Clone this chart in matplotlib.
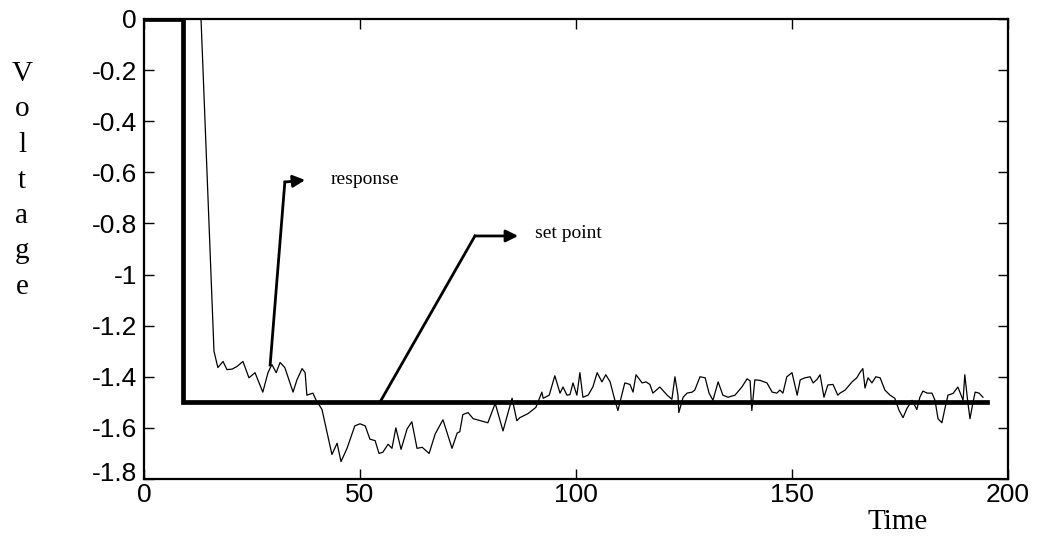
import matplotlib
matplotlib.use("Agg")
import matplotlib.pyplot as plt
import matplotlib.transforms as mtransforms

# ---- data ----
setpoint_t = [0, 9.0, 9.0, 195.1]
setpoint_v = [0, 0, -1.5, -1.5]

resp_t = [0, 13.2, 16.2, 17.1, 18.3, 19.2, 20.4, 21.5, 22.9, 24.3, 25.7, 27.5,
          28.7, 29.6, 30.6, 31.5, 32.6, 34.5, 35.4, 36.6, 37.3, 37.7, 39.1, 39.8,
          41.2, 43.5, 44.7, 45.6, 47.0, 48.8, 50.0, 51.2, 52.3, 53.5, 54.4, 55.3,
          56.5, 57.4, 58.3, 59.5, 60.9, 62.0, 63.2, 64.4, 66.0, 67.4, 69.2, 71.3,
          72.5, 73.1, 73.8, 75.0, 76.2, 79.6, 81.3, 83.1, 85.2, 86.3, 87.0, 88.9,
          90.7, 92.1, 92.4, 93.8, 95.1, 96.3, 97.0, 97.9, 98.6, 99.3, 100.2, 100.9,
          101.6, 102.8, 103.9, 104.9, 106.0, 106.9, 107.9, 109.0, 109.7, 110.6,
          111.3, 112.5, 113.2, 113.9, 115.3, 116.2, 117.1, 117.8, 119.4, 121.1,
          122.2, 122.9, 123.6, 123.8, 124.8, 125.7, 126.9, 127.5, 128.7, 129.9,
          130.8, 131.7, 132.9, 134.0, 135.2, 136.8, 138.4, 139.6, 140.3, 140.7,
          141.4, 142.6, 144.2, 145.4, 146.5, 147.2, 147.9, 148.8, 150.0, 151.2,
          151.9, 153.0, 154.2, 154.9, 155.8, 156.5, 157.4, 158.3, 159.5, 160.6,
          161.1, 162.3, 163.9, 165.0, 165.7, 166.4, 166.9, 167.6, 168.5, 169.4,
          170.4, 171.5, 172.7, 173.8, 174.8, 175.7, 176.6, 177.8, 178.9, 179.6,
          180.3, 181.3, 182.4, 183.1, 183.8, 184.7, 185.4, 186.1, 187.3, 188.4,
          189.6, 190.0, 190.7, 191.2, 191.9, 192.4, 193.3, 194.2]
resp_v = [0, 0, -1.30, -1.364, -1.34, -1.372, -1.37, -1.36, -1.34, -1.404, -1.384, -1.46,
          -1.384, -1.352, -1.384, -1.344, -1.364, -1.46, -1.412, -1.368, -1.384, -1.472, -1.464, -1.49,
          -1.528, -1.704, -1.66, -1.732, -1.68, -1.592, -1.584, -1.592, -1.644, -1.65, -1.70, -1.695,
          -1.664, -1.68, -1.60, -1.684, -1.604, -1.576, -1.68, -1.676, -1.70, -1.624, -1.568, -1.68,
          -1.62, -1.615, -1.548, -1.54, -1.564, -1.58, -1.504, -1.612, -1.484, -1.572, -1.56, -1.544,
          -1.52, -1.46, -1.484, -1.472, -1.396, -1.464, -1.44, -1.472, -1.47, -1.424, -1.472, -1.384,
          -1.48, -1.472, -1.44, -1.384, -1.42, -1.392, -1.42, -1.492, -1.532, -1.472,
          -1.424, -1.43, -1.46, -1.392, -1.424, -1.42, -1.43, -1.464, -1.44, -1.472,
          -1.488, -1.40, -1.472, -1.54, -1.48, -1.464, -1.46, -1.452, -1.40, -1.404,
          -1.464, -1.492, -1.42, -1.472, -1.48, -1.472, -1.44, -1.408, -1.416, -1.532,
          -1.412, -1.414, -1.424, -1.46, -1.464, -1.452, -1.464, -1.40, -1.384, -1.472,
          -1.412, -1.404, -1.40, -1.424, -1.41, -1.392, -1.48, -1.432, -1.43, -1.472,
          -1.464, -1.452, -1.42, -1.404, -1.384, -1.368, -1.444, -1.404, -1.424, -1.40,
          -1.404, -1.452, -1.472, -1.484, -1.532, -1.56, -1.524, -1.492, -1.528, -1.48,
          -1.456, -1.464, -1.464, -1.492, -1.564, -1.58, -1.524, -1.472, -1.465, -1.44,
          -1.492, -1.392, -1.50, -1.564, -1.50, -1.46, -1.464, -1.48]

x_ticks = [0, 50, 100, 150, 200]
y_ticks = [0, -0.2, -0.4, -0.6, -0.8, -1.0, -1.2, -1.4, -1.6, -1.8]
y_ticklabels = ["0", "-0.2", "-0.4", "-0.6", "-0.8", "-1", "-1.2", "-1.4", "-1.6", "-1.8"]

# annotation anchors (data coords)
resp_arrow = [(29.2, -1.354), (32.6, -0.638), (37.3, -0.63)]
resp_text = (43.1, -0.63)
sp_arrow = [(54.6, -1.5), (76.6, -0.849), (86.6, -0.849)]
sp_text = (90.5, -0.84)

W, H = 1040, 541
fig = plt.figure(figsize=(W / 100, H / 100), dpi=100)
ax = fig.add_axes([144 / W, 1 - 479 / H, (1008 - 144) / W, (479 - 19) / H])

ax.plot(resp_t, resp_v, color="black", lw=0.9, zorder=2)
ax.plot(setpoint_t, setpoint_v, color="black", lw=3.4, solid_joinstyle="miter", zorder=3)

ax.set_xlim(0, 200)
ax.set_ylim(-1.8, 0)
ax.set_xticks(x_ticks)
ax.set_yticks(y_ticks)
ax.set_yticklabels(y_ticklabels)
ax.tick_params(direction="in", length=7, width=1, top=True, right=True,
               labelsize=19)
ax.tick_params(axis="x", pad=3)
ax.tick_params(axis="y", pad=5)
for lab in ax.get_xticklabels() + ax.get_yticklabels():
    lab.set_family("Liberation Sans")
# lowest y label sits a little raised, as in the reference
last = ax.get_yticklabels()[-1]
last.set_transform(last.get_transform() +
                   mtransforms.ScaledTranslation(0, 8 / 100, fig.dpi_scale_trans))
for s in ax.spines.values():
    s.set_linewidth(1.6)

# annotations
def bent_arrow(pts, text_xy, text):
    (x0, y0), (x1, y1), (x2, y2) = pts
    ax.plot([x0, x1], [y0, y1], color="black", lw=2.0, zorder=4)
    ax.annotate("", xy=(x2, y2), xytext=(x1, y1),
                arrowprops=dict(arrowstyle="-|>", color="black", lw=2.0,
                                mutation_scale=18, shrinkA=0, shrinkB=0))
    ax.text(text_xy[0], text_xy[1], text, family="Liberation Serif", fontsize=14,
            va="center", ha="left")

bent_arrow(resp_arrow, resp_text, "response")
bent_arrow(sp_arrow, sp_text, "set point")

# vertical y label
letters = "Voltage"
for i, ch in enumerate(letters):
    fig.text(22 / W, 1 - (74 + i * 35.5) / H, ch, family="Liberation Serif",
             fontsize=21, ha="center", va="center")

fig.text(898 / W, 1 - 522 / H, "Time", family="Liberation Serif", fontsize=21,
         ha="center", va="center")

fig.savefig("out.png", dpi=100)
